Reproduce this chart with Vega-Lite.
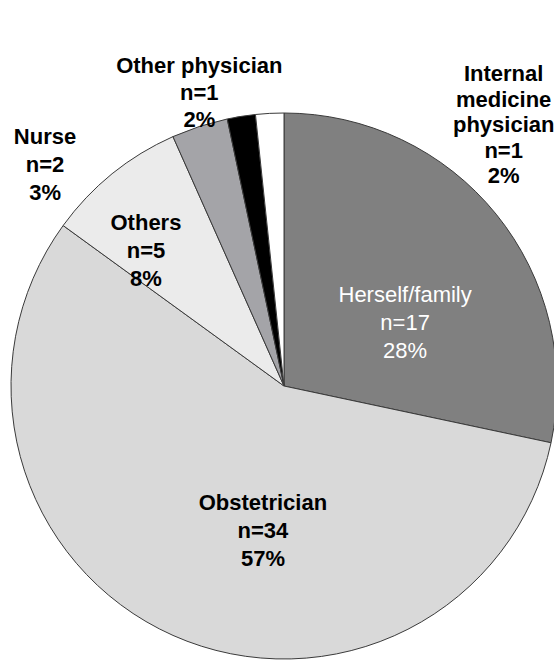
{
  "$schema": "https://vega.github.io/schema/vega-lite/v6.json",
  "width": 540,
  "height": 552,
  "autosize": {"type": "none"},
  "padding": {"left": 14, "top": 110, "right": 0, "bottom": 0},
  "background": "white",
  "config": {"view": {"stroke": null}},
  "data": {
    "values": [
      {"source": "Herself/family", "n": 17, "rank": 1, "label": ["Herself/family", "n=17", "28%"]},
      {"source": "Obstetrician", "n": 34, "rank": 2, "label": ["Obstetrician", "n=34", "57%"]},
      {"source": "Others", "n": 5, "rank": 3, "label": ["Others", "n=5", "8%"]},
      {"source": "Nurse", "n": 2, "rank": 4, "label": ["Nurse", "n=2", "3%"]},
      {"source": "Other physician", "n": 1, "rank": 5, "label": ["Other physician", "n=1", "2%"]},
      {"source": "Internal medicine physician", "n": 1, "rank": 6, "label": ["Internal", "medicine", "physician", "n=1", "2%"]}
    ]
  },
  "encoding": {
    "theta": {"field": "n", "type": "quantitative", "stack": true},
    "order": {"field": "rank", "type": "quantitative"},
    "detail": {"field": "source", "type": "nominal"}
  },
  "layer": [
    {
      "mark": {"type": "arc", "outerRadius": 273, "stroke": "#3a3a3a", "strokeWidth": 1},
      "encoding": {
        "color": {
          "field": "source",
          "type": "nominal",
          "scale": {
            "domain": ["Herself/family", "Obstetrician", "Others", "Nurse", "Other physician", "Internal medicine physician"],
            "range": ["#808080", "#d9d9d9", "#ebebeb", "#a4a4a8", "#000000", "#ffffff"]
          },
          "legend": null
        }
      }
    },
    {
      "mark": {"type": "text", "radius": 152, "dx": 3, "dy": 5, "fill": "#ffffff", "fontSize": 22, "font": "Liberation Sans", "lineHeight": 28, "align": "center", "baseline": "middle"},
      "encoding": {"text": {"condition": {"test": "datum.source === 'Herself/family'", "field": "label"}, "value": ""}}
    },
    {
      "mark": {"type": "text", "radius": 128, "dx": 31, "dy": 0, "fill": "#000000", "fontSize": 22, "fontWeight": "bold", "font": "Liberation Sans", "lineHeight": 28, "align": "center", "baseline": "middle"},
      "encoding": {"text": {"condition": {"test": "datum.source === 'Obstetrician'", "field": "label"}, "value": ""}}
    },
    {
      "mark": {"type": "text", "radius": 213, "dx": -4, "dy": 3, "fill": "#000000", "fontSize": 22, "fontWeight": "bold", "font": "Liberation Sans", "lineHeight": 28, "align": "center", "baseline": "middle"},
      "encoding": {"text": {"condition": {"test": "datum.source === 'Others'", "field": "label"}, "value": ""}}
    },
    {
      "mark": {"type": "text", "radius": 262, "dx": -158, "dy": 0, "fill": "#000000", "fontSize": 22, "fontWeight": "bold", "font": "Liberation Sans", "lineHeight": 28, "align": "center", "baseline": "middle"},
      "encoding": {"text": {"condition": {"test": "datum.source === 'Nurse'", "field": "label"}, "value": ""}}
    },
    {
      "mark": {"type": "text", "radius": 324, "dx": -34, "dy": 0, "fill": "#000000", "fontSize": 22, "fontWeight": "bold", "font": "Liberation Sans", "lineHeight": 27, "align": "center", "baseline": "middle"},
      "encoding": {"text": {"condition": {"test": "datum.source === 'Other physician'", "field": "label"}, "value": ""}}
    },
    {
      "mark": {"type": "text", "radius": 312, "dx": 236, "dy": 0, "fill": "#000000", "fontSize": 22, "fontWeight": "bold", "font": "Liberation Sans", "lineHeight": 25.5, "align": "center", "baseline": "middle"},
      "encoding": {"text": {"condition": {"test": "datum.source === 'Internal medicine physician'", "field": "label"}, "value": ""}}
    }
  ]
}
